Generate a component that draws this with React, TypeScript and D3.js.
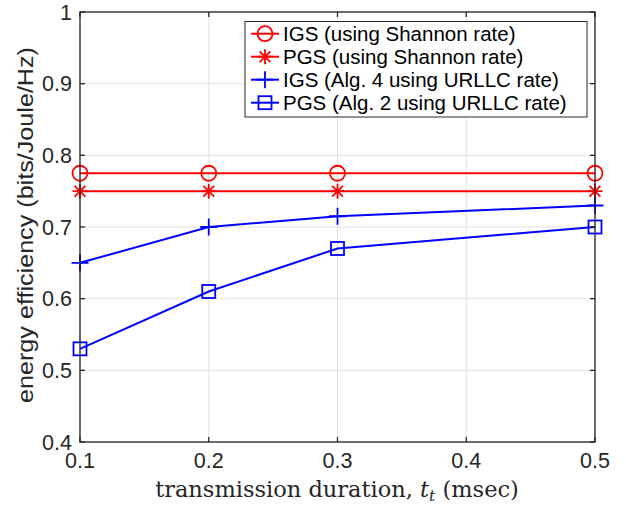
import React from "react";
import * as d3 from "d3";

const xValues = [0.1, 0.2, 0.3, 0.5];
const igsShannon = [0.775, 0.775, 0.775, 0.775];
const pgsShannon = [0.75, 0.75, 0.75, 0.75];
const igsAlg4 = [0.65, 0.7, 0.715, 0.73];
const pgsAlg2 = [0.53, 0.61, 0.67, 0.7];
const xTicks = [0.1, 0.2, 0.3, 0.4, 0.5];
const yTicks = [0.4, 0.5, 0.6, 0.7, 0.8, 0.9, 1];
const legendLabels = [
  "IGS (using Shannon rate)",
  "PGS (using Shannon rate)",
  "IGS (Alg. 4 using URLLC rate)",
  "PGS (Alg. 2 using URLLC rate)",
];

const W = 626, H = 506;
const L = 80, R = 595, T = 12, B = 442;
const RED = "#ff0000", BLUE = "#0000ff", AX = "#262626";

type Kind = "circle" | "star" | "plus" | "square";
const series: { vals: number[]; color: string; kind: Kind }[] = [
  { vals: igsShannon, color: RED, kind: "circle" },
  { vals: pgsShannon, color: RED, kind: "star" },
  { vals: igsAlg4, color: BLUE, kind: "plus" },
  { vals: pgsAlg2, color: BLUE, kind: "square" },
];

function Marker({ kind, x, y, color }: { kind: Kind; x: number; y: number; color: string }) {
  const sw = 1.8;
  if (kind === "circle") return <circle cx={x} cy={y} r={7.5} fill="none" stroke={color} strokeWidth={sw} />;
  if (kind === "square") return <rect x={x - 6.5} y={y - 6.5} width={13} height={13} fill="none" stroke={color} strokeWidth={sw} />;
  if (kind === "plus") {
    const s = 8.5;
    return <path d={`M${x - s},${y}H${x + s}M${x},${y - s}V${y + s}`} stroke={color} strokeWidth={sw} fill="none" />;
  }
  const s = 7.5, d = s * 0.72;
  return (
    <path
      d={`M${x - s},${y}H${x + s}M${x},${y - s}V${y + s}M${x - d},${y - d}L${x + d},${y + d}M${x - d},${y + d}L${x + d},${y - d}`}
      stroke={color}
      strokeWidth={sw}
      fill="none"
    />
  );
}

export default function App() {
  const x = d3.scaleLinear().domain([0.1, 0.5]).range([L, R]);
  const y = d3.scaleLinear().domain([0.4, 1]).range([B, T]);
  const line = d3.line<[number, number]>().x((d) => x(d[0])).y((d) => y(d[1]));
  const sans = "'Liberation Sans', Arial, Helvetica, sans-serif";
  const serif = "'DejaVu Serif', 'Liberation Serif', serif";
  const tl = 5;
  const legX = 245, legY = 21.5, legW = 342, legH = 95.5, rowH = 23;

  return (
    <svg width={W} height={H} style={{ position: "absolute", left: 0, top: 0, background: "#fff" }}>
      <rect x={0} y={0} width={W} height={H} fill="#fff" />
      {xTicks.map((t) => (
        <line key={"gx" + t} x1={x(t)} x2={x(t)} y1={T} y2={B} stroke="#e3e3e3" strokeWidth={1} />
      ))}
      {yTicks.map((t) => (
        <line key={"gy" + t} x1={L} x2={R} y1={y(t)} y2={y(t)} stroke="#e3e3e3" strokeWidth={1} />
      ))}
      {series.map((s, i) => (
        <g key={i}>
          <path d={line(xValues.map((v, j) => [v, s.vals[j]] as [number, number])) || ""} fill="none" stroke={s.color} strokeWidth={2} />
          {xValues.map((v, j) => (
            <Marker key={j} kind={s.kind} x={x(v)} y={y(s.vals[j])} color={s.color} />
          ))}
        </g>
      ))}
      <rect x={L} y={T} width={R - L} height={B - T} fill="none" stroke={AX} strokeWidth={1.3} />
      {xTicks.map((t) => (
        <g key={"tx" + t}>
          <line x1={x(t)} x2={x(t)} y1={B} y2={B - tl} stroke={AX} strokeWidth={1.3} />
          <line x1={x(t)} x2={x(t)} y1={T} y2={T + tl} stroke={AX} strokeWidth={1.3} />
          <text x={x(t)} y={467.5} textAnchor="middle" fontFamily={sans} fontSize={21.5} fill={AX}>
            {t.toFixed(1)}
          </text>
        </g>
      ))}
      {yTicks.map((t) => (
        <g key={"ty" + t}>
          <line x1={L} x2={L + tl} y1={y(t)} y2={y(t)} stroke={AX} strokeWidth={1.3} />
          <line x1={R} x2={R - tl} y1={y(t)} y2={y(t)} stroke={AX} strokeWidth={1.3} />
          <text x={72} y={y(t) + 7.5} textAnchor="end" fontFamily={sans} fontSize={21.5} fill={AX}>
            {t === 1 ? "1" : t.toFixed(1)}
          </text>
        </g>
      ))}
      <text x={337} y={497} textAnchor="middle" fontFamily={serif} fontSize={22.5} fill={AX}>
        transmission duration, <tspan fontStyle="italic">t</tspan>
        <tspan fontStyle="italic" fontSize={15.5} dy={4}>t</tspan>
        <tspan dy={-4}> (msec)</tspan>
      </text>
      <text
        transform={`translate(33,${(47 + 403) / 2}) rotate(-90)`}
        textAnchor="middle"
        fontFamily={sans}
        fontSize={21.5}
        fill={AX}
        textLength={356}
        lengthAdjust="spacingAndGlyphs"
      >
        energy efficiency (bits/Joule/Hz)
      </text>
      <rect x={legX} y={legY} width={legW} height={legH} fill="#fff" stroke={AX} strokeWidth={1} />
      {series.map((s, i) => {
        const cy = 33.7 + i * rowH;
        return (
          <g key={"lg" + i}>
            <line x1={251} x2={279} y1={cy} y2={cy} stroke={s.color} strokeWidth={2} />
            <Marker kind={s.kind} x={265} y={cy} color={s.color} />
            <text x={283} y={cy + 7.3} fontFamily={sans} fontSize={20.5} fill="#000">
              {legendLabels[i]}
            </text>
          </g>
        );
      })}
    </svg>
  );
}
